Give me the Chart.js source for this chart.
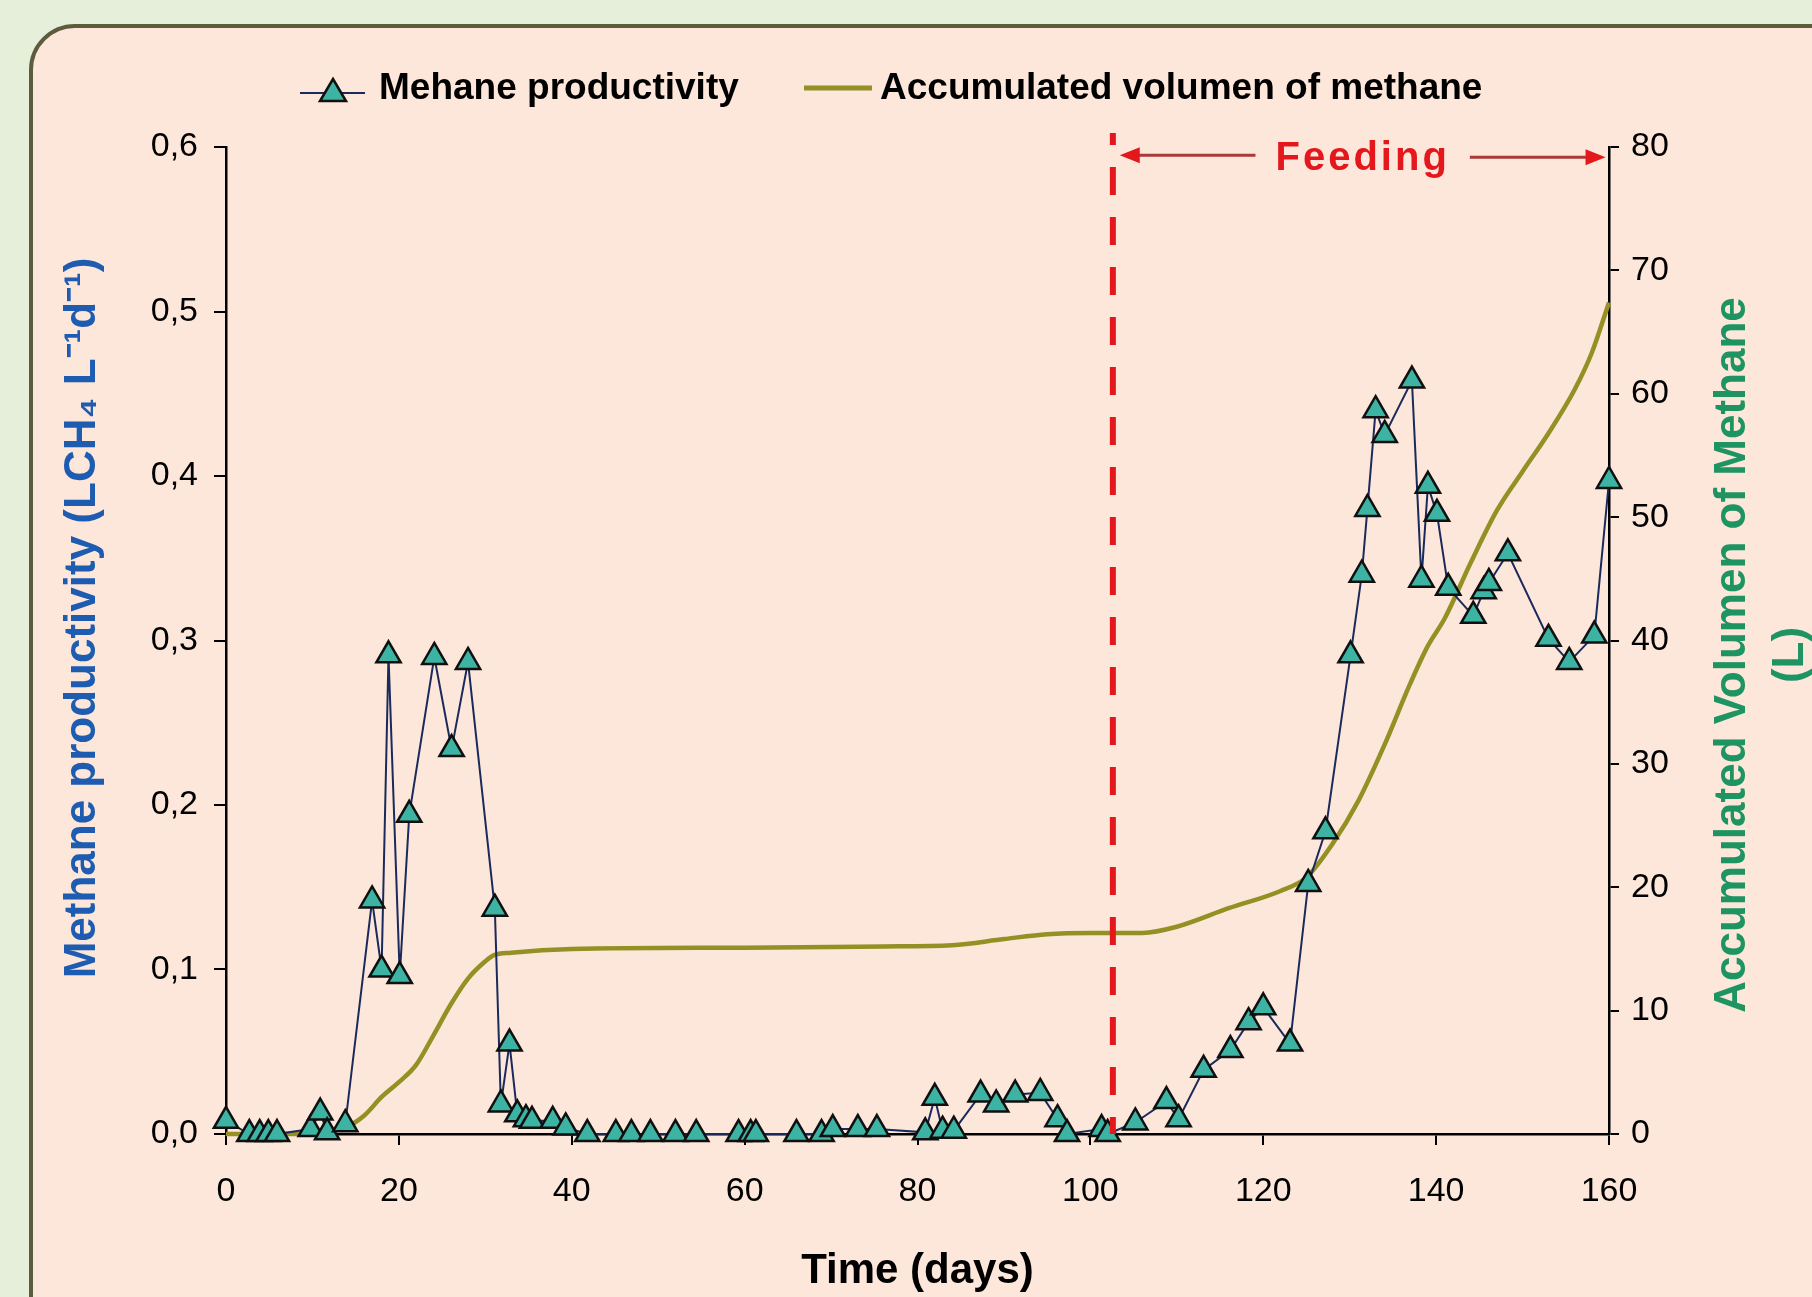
<!DOCTYPE html>
<html>
<head>
<meta charset="utf-8">
<title>Methane productivity and accumulated volume</title>
<script src="https://cdn.jsdelivr.net/npm/chart.js@4.4.1/dist/chart.umd.min.js"></script>
<style>
    html, body { margin: 0; padding: 0; background: #e5efda; }
    canvas { display: block; }
</style>
</head>
<body>
<canvas id="methaneChart" width="1812" height="1297"></canvas>
<script>
// Methane productivity (LCH4 L-1 d-1)
const prodDays = [0, 2.7, 3.9, 4.9, 5.9, 9.8, 10.9, 11.7, 13.8, 16.9, 18.0, 18.8, 20.1, 21.2,
    24.1, 26.1, 28.0, 31.1, 31.8, 32.8, 33.7, 34.7, 35.4, 37.8, 39.3, 41.8, 45.1, 46.9, 49.1,
    52.0, 54.4, 59.3, 60.7, 61.3, 66.0, 68.9, 70.2, 73.1, 75.3, 80.9, 82.0, 82.9, 84.2, 87.3,
    89.1, 91.3, 94.2, 96.2, 97.3, 101.3, 102.0, 105.2, 108.8, 110.2, 113.1, 116.2, 118.3,
    120.0, 123.1, 125.2, 127.2, 130.1, 131.4, 132.05, 133.0, 134.05, 137.2, 138.3, 139.05,
    140.1, 141.4, 144.3, 145.5, 146.1, 148.3, 153.0, 155.4, 158.3, 160.0];
const prodValues = [0.008, 0, 0, 0, 0, 0.003, 0.013, 0.001, 0.006, 0.142, 0.100, 0.291, 0.096, 0.194,
    0.290, 0.234, 0.287, 0.137, 0.018, 0.055, 0.012, 0.009, 0.008, 0.008, 0.004, 0, 0, 0, 0,
    0, 0, 0, 0, 0, 0, 0, 0.003, 0.003, 0.003, 0.001, 0.022, 0.002, 0.002, 0.024,
    0.018, 0.024, 0.025, 0.009, 0, 0.003, 0, 0.007, 0.020, 0.009, 0.039, 0.051, 0.068,
    0.077, 0.055, 0.152, 0.184, 0.291, 0.340, 0.380, 0.440, 0.425, 0.458, 0.337, 0.394,
    0.377, 0.332, 0.315, 0.330, 0.335, 0.353, 0.301, 0.287, 0.303, 0.397];

// Accumulated volume of methane (L), right axis
const volDays = [0, 7, 10, 14, 16, 18, 20, 22, 24, 26, 28, 30, 31, 33, 40, 60, 76, 84, 90, 95, 100,
    106, 110, 116, 122, 125, 128, 131, 134, 137, 139, 141, 144, 147, 150, 153, 156, 158, 160];
const volValues = [0, 0, 0.1, 0.6, 1.5, 3.0, 4.2, 5.6, 8.0, 10.5, 12.6, 14.0, 14.5, 14.7, 15.0, 15.1, 15.2, 15.3, 15.8, 16.2, 16.3,
    16.3, 16.8, 18.3, 19.7, 20.8, 23.5, 27.0, 31.5, 36.5, 39.5, 41.8, 46.3, 50.5, 53.7, 56.8, 60.3, 63.3, 67.4];

// Axis ticks
const xTicks = [0, 20, 40, 60, 80, 100, 120, 140, 160];
const yTicks = [0, 0.1, 0.2, 0.3, 0.4, 0.5, 0.6];
const yTickLabels = ['0,0', '0,1', '0,2', '0,3', '0,4', '0,5', '0,6'];
const y1Ticks = [0, 10, 20, 30, 40, 50, 60, 70, 80];

// Feeding period (days)
const feedingStart = 102.6;
const feedingEnd = 159.6;

const tickFont = { family: '"Liberation Sans", Arial, sans-serif', size: 34 };
const boldFamily = '"Liberation Sans", Arial, sans-serif';

const decorPlugin = {
    id: 'decor',
    beforeDraw(chart) {
        const ctx = chart.ctx;
        ctx.save();
        ctx.fillStyle = '#e5efda';
        ctx.fillRect(0, 0, chart.width, chart.height);
        ctx.beginPath();
        ctx.roundRect(31, 26, 1900, 1400, 44);
        ctx.fillStyle = '#fde7da';
        ctx.fill();
        ctx.lineWidth = 4;
        ctx.strokeStyle = '#5c5b3e';
        ctx.stroke();
        ctx.restore();
    },
    afterDatasetsDraw(chart) {
        const { ctx, chartArea, scales: { x, y } } = chart;
        const fx = x.getPixelForValue(feedingStart);
        ctx.save();

        // dashed red line where feeding starts
        ctx.strokeStyle = '#e3171c';
        ctx.lineWidth = 6;
        ctx.setLineDash([28, 22]);
        ctx.lineDashOffset = 16;
        ctx.beginPath();
        ctx.moveTo(fx, chartArea.top - 14);
        ctx.lineTo(fx, chartArea.bottom);
        ctx.stroke();
        ctx.setLineDash([]);

        // Feeding arrow
        const ay = y.getPixelForValue(0.595);
        const x0 = x.getPixelForValue(feedingStart + 0.8);
        const x1 = x.getPixelForValue(feedingEnd);
        const tx = (x0 + x1) / 2;
        ctx.font = 'bold 40px ' + boldFamily;
        ctx.letterSpacing = '3px';
        const tw = ctx.measureText('Feeding').width;
        const gap = tw / 2 + 20;

        ctx.strokeStyle = '#a83a3a';
        ctx.lineWidth = 3;
        ctx.beginPath();
        ctx.moveTo(x0 + 14, ay);
        ctx.lineTo(tx - gap, ay);
        ctx.moveTo(tx + gap, ay + 2);
        ctx.lineTo(x1 - 14, ay + 2);
        ctx.stroke();

        ctx.fillStyle = '#e3171c';
        ctx.beginPath();
        ctx.moveTo(x0, ay);
        ctx.lineTo(x0 + 20, ay - 8);
        ctx.lineTo(x0 + 20, ay + 8);
        ctx.closePath();
        ctx.moveTo(x1, ay + 2);
        ctx.lineTo(x1 - 20, ay - 6);
        ctx.lineTo(x1 - 20, ay + 10);
        ctx.closePath();
        ctx.fill();

        ctx.textAlign = 'center';
        ctx.textBaseline = 'alphabetic';
        ctx.fillText('Feeding', tx, ay + 15);
        ctx.restore();
    },
    afterDraw(chart) {
        const ctx = chart.ctx;
        ctx.save();

        // legend
        ctx.font = 'bold 37px ' + boldFamily;
        ctx.fillStyle = '#000';
        ctx.textBaseline = 'middle';
        ctx.textAlign = 'left';
        ctx.strokeStyle = '#1b2a5c';
        ctx.lineWidth = 2;
        ctx.beginPath();
        ctx.moveTo(300, 93);
        ctx.lineTo(365, 93);
        ctx.stroke();
        ctx.beginPath();
        ctx.moveTo(333, 79);
        ctx.lineTo(346, 101);
        ctx.lineTo(320, 101);
        ctx.closePath();
        ctx.fillStyle = '#3db3a3';
        ctx.fill();
        ctx.strokeStyle = '#101010';
        ctx.lineWidth = 2.5;
        ctx.stroke();
        ctx.fillStyle = '#000';
        ctx.fillText('Mehane productivity', 379, 89);

        ctx.strokeStyle = '#949024';
        ctx.lineWidth = 5;
        ctx.beginPath();
        ctx.moveTo(804, 88);
        ctx.lineTo(872, 88);
        ctx.stroke();
        ctx.fillText('Accumulated volumen of methane', 880, 89);

        // left axis title
        ctx.font = 'bold 44px ' + boldFamily;
        ctx.textAlign = 'center';
        ctx.save();
        ctx.translate(83, 618);
        ctx.rotate(-Math.PI / 2);
        ctx.fillStyle = '#1d5cb0';
        ctx.fillText('Methane productivity (LCH\u2084 L\u207B\u00B9d\u207B\u00B9)', 0, 0);
        ctx.restore();

        // right axis title
        ctx.save();
        ctx.translate(1733, 655);
        ctx.rotate(-Math.PI / 2);
        ctx.fillStyle = '#1e9462';
        ctx.fillText('Accumulated Volumen of Methane', 0, 0);
        ctx.fillText('(L)', 0, 58);
        ctx.restore();

        ctx.restore();
    }
};

const ctx = document.getElementById('methaneChart').getContext('2d');
new Chart(ctx, {
    type: 'line',
    data: {
        datasets: [{
            label: 'Mehane productivity',
            data: prodDays.map((d, i) => ({ x: d, y: prodValues[i] })),
            yAxisID: 'y',
            borderColor: '#1b2a5c',
            borderWidth: 2,
            tension: 0,
            pointStyle: 'triangle',
            pointRadius: 14,
            pointBorderWidth: 2.5,
            pointBorderColor: '#101010',
            pointBackgroundColor: '#3db3a3',
            clip: false
        }, {
            label: 'Accumulated volumen of methane',
            data: volDays.map((d, i) => ({ x: d, y: volValues[i] })),
            yAxisID: 'y1',
            borderColor: '#949024',
            borderWidth: 4.5,
            pointRadius: 0,
            cubicInterpolationMode: 'monotone',
            clip: false
        }]
    },
    options: {
        responsive: false,
        animation: false,
        events: [],
        layout: { padding: { left: 0, right: 0, top: 147, bottom: 0 } },
        plugins: {
            legend: { display: false },
            tooltip: { enabled: false }
        },
        scales: {
            x: {
                type: 'linear',
                min: 0,
                max: 160,
                afterBuildTicks: s => { s.ticks = xTicks.map(v => ({ value: v })); },
                afterFit: s => { s.height = 163; },
                grid: { drawOnChartArea: false, color: '#000', lineWidth: 2, tickLength: 11 },
                border: { color: '#000', width: 2.5 },
                ticks: { color: '#000', font: tickFont, padding: 26, maxRotation: 0 },
                title: {
                    display: true,
                    text: 'Time (days)',
                    color: '#000',
                    font: { family: boldFamily, size: 42, weight: 'bold' },
                    padding: { top: 0, bottom: 0 }
                }
            },
            y: {
                position: 'left',
                min: 0,
                max: 0.6,
                afterBuildTicks: s => { s.ticks = yTicks.map(v => ({ value: v })); },
                afterFit: s => { s.width = 226; },
                grid: { drawOnChartArea: false, color: '#000', lineWidth: 2, tickLength: 12 },
                border: { color: '#000', width: 2.5 },
                ticks: { color: '#000', font: tickFont, padding: 16, callback: (v, i) => yTickLabels[i] }
            },
            y1: {
                position: 'right',
                min: 0,
                max: 80,
                afterBuildTicks: s => { s.ticks = y1Ticks.map(v => ({ value: v })); },
                afterFit: s => { s.width = 203; },
                grid: { drawOnChartArea: false, color: '#000', lineWidth: 2, tickLength: 10 },
                border: { color: '#000', width: 2.5 },
                ticks: { color: '#000', font: tickFont, padding: 12 }
            }
        }
    },
    plugins: [decorPlugin]
});
</script>
</body>
</html>
